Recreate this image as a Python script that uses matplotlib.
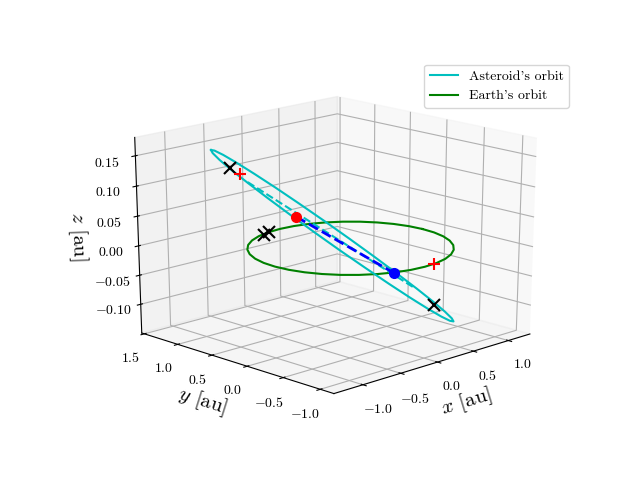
import matplotlib
matplotlib.use("Agg")
import matplotlib.pyplot as plt

plt.rcParams['font.family'] = ['cmr10', 'DejaVu Sans']
plt.rcParams['mathtext.fontset'] = 'cm'
plt.rcParams['axes.formatter.use_mathtext'] = True
plt.rcParams['axes.unicode_minus'] = True

asteroid_x = [-1.099, -0.881, -0.629, -0.353, -0.066, 0.221, 0.491, 0.732, 0.931, 1.076, 1.159, 1.178, 1.131, 1.022, 0.859, 0.65, 0.407, 0.142, -0.133, -0.406, -0.667, -0.905, -1.112, -1.281, -1.407, -1.484, -1.511, -1.485, -1.406, -1.276, -1.099]
asteroid_y = [0.762, 0.959, 1.119, 1.234, 1.297, 1.302, 1.248, 1.136, 0.971, 0.76, 0.514, 0.246, -0.029, -0.299, -0.549, -0.769, -0.949, -1.083, -1.166, -1.198, -1.179, -1.11, -0.995, -0.841, -0.652, -0.435, -0.199, 0.048, 0.297, 0.538, 0.762]
asteroid_z = [0.1733, 0.161, 0.1427, 0.1188, 0.0904, 0.0585, 0.0247, -0.0094, -0.0421, -0.0716, -0.0964, -0.1152, -0.1271, -0.1317, -0.129, -0.1192, -0.1031, -0.0817, -0.056, -0.0273, 0.0033, 0.0344, 0.0648, 0.0935, 0.1195, 0.1417, 0.1595, 0.1719, 0.1786, 0.1792, 0.1733]

earth_x = [1.045, 1.03, 0.985, 0.911, 0.811, 0.688, 0.545, 0.387, 0.219, 0.045, -0.129, -0.297, -0.455, -0.598, -0.721, -0.821, -0.895, -0.94, -0.955, -0.94, -0.895, -0.821, -0.721, -0.598, -0.455, -0.297, -0.129, 0.045, 0.219, 0.387, 0.545, 0.688, 0.811, 0.911, 0.985, 1.03, 1.045]
earth_y = [0.05, 0.224, 0.392, 0.55, 0.693, 0.816, 0.916, 0.99, 1.035, 1.05, 1.035, 0.99, 0.916, 0.816, 0.693, 0.55, 0.392, 0.224, 0.05, -0.124, -0.292, -0.45, -0.593, -0.716, -0.816, -0.89, -0.935, -0.95, -0.935, -0.89, -0.816, -0.716, -0.593, -0.45, -0.292, -0.124, 0.05]
earth_z = [0.0] * 37

apsis_x = [-1.4465, 1.0493]
apsis_y = [-0.1281, 0.1543]
apsis_z = [0.1567, -0.1065]

node_x = [-1.1463, -0.3212]
node_y = [-0.4506, -0.9061]
node_z = [0.1027, 0.0]

cross_x = [-1.3784, 0.8607, -0.2275, -0.1241]
cross_y = [0.1889, -0.3058, 0.9832, 1.0282]
cross_z = [0.1688, -0.114, 0.0, 0.0]

plus_x = [-1.3043, 0.1804]
plus_y = [0.1361, -0.9417]
plus_z = [0.1572, 0.0]

x_ticks = [-1.0, -0.5, 0.0, 0.5, 1.0]
y_ticks = [-1.0, -0.5, 0.0, 0.5, 1.0, 1.5]
z_ticks = [-0.10, -0.05, 0.0, 0.05, 0.10, 0.15]

fig = plt.figure(figsize=(6.4, 4.8), dpi=100)
ax = fig.add_subplot(projection='3d', computed_zorder=False)
ax.set_box_aspect((1, 1, 1), zoom=0.947)
ax.apply_aspect = lambda position=None: None
ax.set_position([0.125 + 1 / 640, 0.11, 0.775, 0.77])
ax.view_init(elev=20, azim=-134.5)

ax.plot(earth_x, earth_y, earth_z, color='g', lw=1.5, zorder=2)
ax.plot(asteroid_x, asteroid_y, asteroid_z, color='c', lw=1.5, zorder=3)
ax.plot(apsis_x, apsis_y, apsis_z, color='c', ls='--', lw=1.5, zorder=3)
ax.plot(node_x, node_y, node_z, color='b', ls='--', lw=2, zorder=4)
ax.plot(cross_x, cross_y, cross_z, ls='none', marker='x', color='k', ms=8, mew=1.5, zorder=5)
ax.plot(plus_x, plus_y, plus_z, ls='none', marker='+', color='r', ms=8, mew=1.5, zorder=5)
ax.plot(node_x[:1], node_y[:1], node_z[:1], ls='none', marker='o', color='r', ms=7, zorder=6)
ax.plot(node_x[1:], node_y[1:], node_z[1:], ls='none', marker='o', color='b', ms=7, zorder=6)

ax.set_xlim(-1.375, 1.315)
ax.set_ylim(-1.18, 1.54)
ax.set_zlim(-0.15, 0.18)
ax.set_xticks(x_ticks)
ax.set_yticks(y_ticks)
ax.set_zticks(z_ticks)
ax.set_xlabel(r'$x$ [au]', fontsize=15)
ax.set_ylabel(r'$y$ [au]', fontsize=15)
ax.set_zlabel(r'$z$ [au]', fontsize=15)

handles = [plt.Line2D([], [], color='c', lw=1.5), plt.Line2D([], [], color='g', lw=1.5)]
ax.legend(handles, ["Asteroid's orbit", "Earth's orbit"], loc='upper right', bbox_to_anchor=(1 - 1 / 496, 1))

fig.savefig('out.png', dpi=100)
